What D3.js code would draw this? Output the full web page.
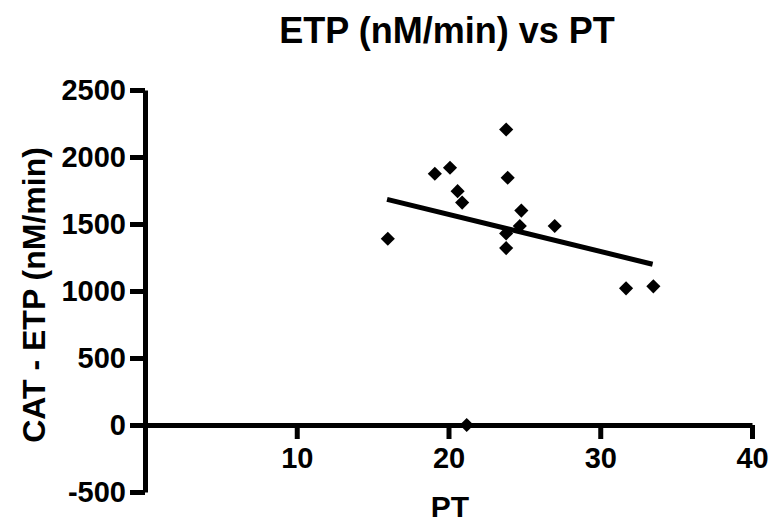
<!DOCTYPE html>
<html>
<head>
<meta charset="utf-8">
<script src="https://cdn.jsdelivr.net/npm/d3@7"></script>
<style>
  body { margin: 0; background: #fff; }
  text { font-family: Arial, "Liberation Sans", sans-serif; font-weight: bold; fill: #000; }
</style>
</head>
<body>
<script>
// PT values and CAT - ETP values
const ptValues = [23.8, 19.1, 20.1, 23.9, 20.6, 20.9, 24.8, 24.7, 27.0, 23.8, 23.8, 16.0, 31.7, 33.5, 21.2];
const etpValues = [2205, 1875, 1920, 1845, 1745, 1660, 1600, 1485, 1485, 1430, 1320, 1390, 1020, 1035, 0];

// end points of the fitted line
const fitX = [15.95, 33.45];
const fitY = [1684, 1200];

const xTicks = [10, 20, 30, 40];
const yTicks = [-500, 0, 500, 1000, 1500, 2000, 2500];

const points = ptValues.map((v, i) => ({ x: v, y: etpValues[i] }));

const width = 771;
const height = 524;

const svg = d3.select("body").append("svg").attr("width", width).attr("height", height);

const xScale = d3.scaleLinear().domain([0, 40]).range([145, 752]);
const yScale = d3.scaleLinear().domain([-500, 2500]).range([492, 90]);

//Title
svg.append("text")
  .attr("x", 447)
  .attr("y", 43)
  .attr("text-anchor", "middle")
  .style("font-size", "36px")
  .text("ETP (nM/min) vs PT");

//Axes
const yAxis = d3.axisLeft(yScale).tickValues(yTicks).tickFormat((d) => String(d))
  .tickSize(15).tickSizeOuter(0).tickPadding(4);
const xAxis = d3.axisBottom(xScale).tickValues(xTicks).tickFormat((d) => String(d))
  .tickSize(14).tickSizeOuter(0).tickPadding(8);

const gy = svg.append("g")
  .attr("transform", "translate(" + xScale(0) + ",0)")
  .call(yAxis);

const gx = svg.append("g")
  .attr("transform", "translate(0," + yScale(0) + ")")
  .call(xAxis);

[gx, gy].forEach((g) => {
  g.select(".domain").attr("stroke", "#000").attr("stroke-width", 5);
  g.selectAll(".tick line").attr("stroke", "#000").attr("stroke-width", 5);
  g.selectAll(".tick text")
    .attr("fill", "#000")
    .style("font-size", "29px")
    .style("font-family", "Arial, 'Liberation Sans', sans-serif")
    .style("font-weight", "bold");
});

//Axis titles
svg.append("text")
  .attr("x", 450)
  .attr("y", 517)
  .attr("text-anchor", "middle")
  .style("font-size", "30px")
  .text("PT");

svg.append("text")
  .attr("transform", "translate(45,295) rotate(-90)")
  .attr("text-anchor", "middle")
  .style("font-size", "32px")
  .text("CAT - ETP (nM/min)");

//Fit line
const line = d3.line().x((d) => xScale(d[0])).y((d) => yScale(d[1]));
svg.append("path")
  .datum(fitX.map((v, i) => [v, fitY[i]]))
  .attr("d", line)
  .attr("fill", "none")
  .attr("stroke", "#000")
  .attr("stroke-width", 5);

//Diamonds
const diamond = d3.symbol().type(d3.symbolSquare).size(100);
svg.selectAll(".dot")
  .data(points)
  .enter()
  .append("path")
  .attr("class", "dot")
  .attr("d", diamond)
  .attr("transform", (d) => "translate(" + xScale(d.x) + "," + yScale(d.y) + ") rotate(45)")
  .attr("fill", "#000");
</script>
</body>
</html>
